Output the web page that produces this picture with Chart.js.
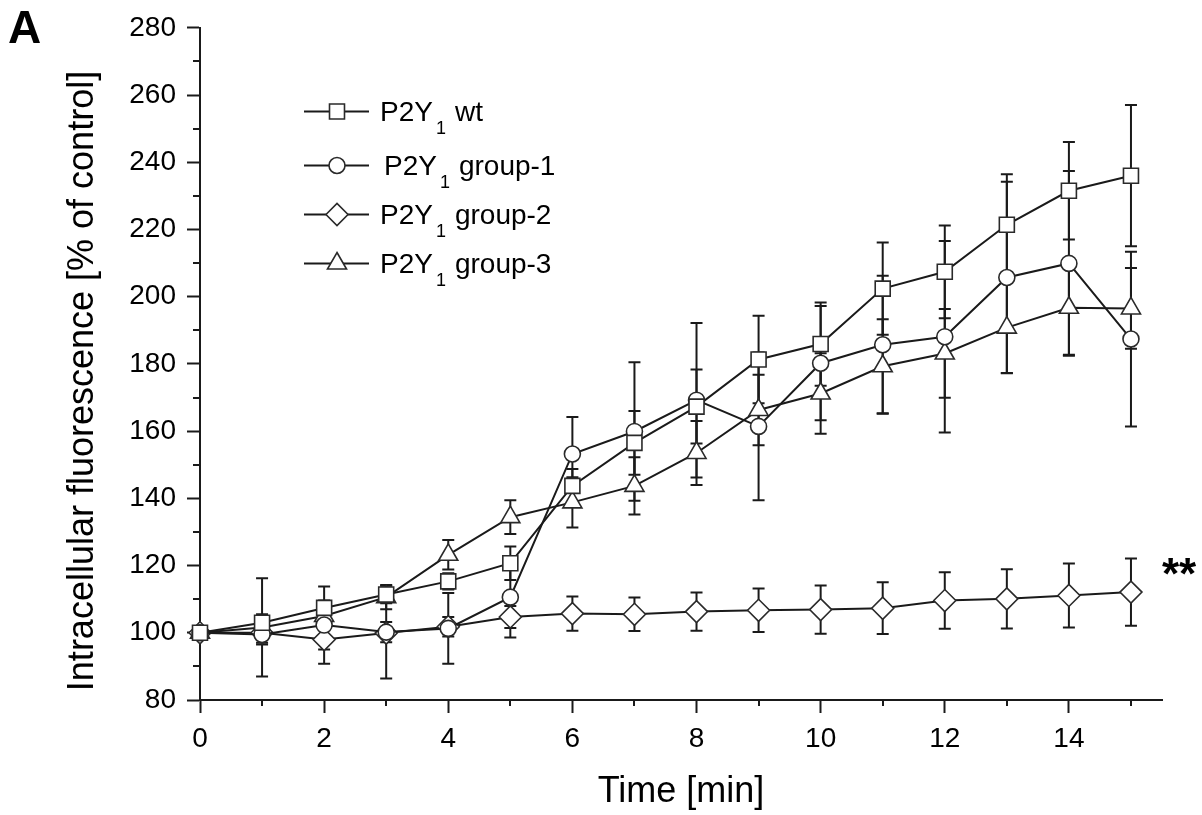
<!DOCTYPE html>
<html>
<head>
<meta charset="utf-8">
<title>Intracellular fluorescence</title>
<script src="https://cdn.jsdelivr.net/npm/chart.js@4.4.1/dist/chart.umd.min.js"></script>
<style>
    html, body { margin: 0; padding: 0; background: #fff; }
    #wrap { width: 1202px; height: 815px; }
</style>
</head>
<body>
<div id="wrap"><canvas id="chart" width="1202" height="815"></canvas></div>
<script>
// Time points (min)
const times = [0, 1, 2, 3, 4, 5, 6, 7, 8, 9, 10, 11, 12, 13, 14, 15];

// Means and error bars (% of control)
const wtMean = [100, 103, 107.4, 111.4, 115.3, 120.7, 143.7, 156.5, 167.3, 181.3, 185.9, 202.4, 207.4, 221.4, 231.5, 236];
const wtErr  = [0, 2.5, 2.2, 2.6, 2.4, 5, 5, 9.5, 11, 13, 12.4, 13.7, 13.8, 15, 14.5, 21];

const g1Mean = [100, 99.5, 102.3, 100.2, 101.3, 110.6, 153.2, 159.9, 169.2, 161.4, 180.2, 185.7, 188.1, 205.7, 209.9, 187.4];
const g1Err  = [0, 3, 11.5, 3, 10.5, 12, 11, 20.6, 23, 22, 17, 20.5, 28.5, 28.5, 27.5, 26];

const g2Mean = [100, 100, 98, 99.9, 101.8, 104.7, 105.7, 105.5, 106.3, 106.7, 106.9, 107.3, 109.6, 110.1, 111.1, 112.1];
const g2Err  = [0, 3, 3, 13.5, 2.9, 3.3, 5.1, 5, 5.7, 6.5, 7.2, 7.7, 8.4, 8.8, 9.5, 10];

const g3Mean = [100, 101.6, 105, 110.6, 123.2, 134.4, 138.8, 143.7, 153.5, 166.3, 171.2, 179.3, 183.1, 190.8, 196.7, 196.5];
const g3Err  = [0, 14.6, 2.5, 3.6, 4.4, 5, 7.5, 8.5, 9.5, 10.5, 12, 14, 13.2, 13.5, 14, 12];

// Legend text: "P2Y" + subscript "1" + suffix
const seriesNames = ['wt', 'group-1', 'group-2', 'group-3'];

// Axis ticks
const xMajorTicks = [0, 2, 4, 6, 8, 10, 12, 14];
const xMinorTicks = [1, 3, 5, 7, 9, 11, 13, 15];
const yMajorTicks = [80, 100, 120, 140, 160, 180, 200, 220, 240, 260, 280];
const yMinorTicks = [90, 110, 130, 150, 170, 190, 210, 230, 250, 270];

const FONT = "'Liberation Sans', Arial, Helvetica, sans-serif";
const INK = '#1a1a1a';

function toPoints(values) {
    return times.map((t, i) => ({ x: t, y: values[i] }));
}

function makeSet(name, means, errs, style, radius) {
    return {
        label: 'P2Y\u2081 ' + name,
        data: toPoints(means),
        errors: errs,
        borderColor: INK,
        borderWidth: 2,
        pointStyle: style,
        pointRadius: radius,
        pointHoverRadius: radius,
        pointBackgroundColor: '#fff',
        pointBorderColor: '#2a2a2a',
        pointBorderWidth: 1.6,
        tension: 0,
        fill: false,
        clip: false
    };
}

const datasets = [
    makeSet(seriesNames[0], wtMean, wtErr, 'rect', 10.6),
    makeSet(seriesNames[1], g1Mean, g1Err, 'circle', 8),
    makeSet(seriesNames[2], g2Mean, g2Err, 'rectRot', 11),
    makeSet(seriesNames[3], g3Mean, g3Err, 'triangle', 11)
];

// Vertical error bars with caps, drawn under the markers
const errorBars = {
    id: 'errorBars',
    beforeDatasetsDraw(chart) {
        const ctx = chart.ctx;
        const yScale = chart.scales.y;
        const cap = 6;
        ctx.save();
        ctx.strokeStyle = INK;
        ctx.lineWidth = 2;
        chart.data.datasets.forEach((ds, di) => {
            const meta = chart.getDatasetMeta(di);
            meta.data.forEach((pt, i) => {
                const e = ds.errors[i];
                if (!e) return;
                const v = ds.data[i].y;
                const x = pt.x;
                const yTop = yScale.getPixelForValue(v + e);
                const yBot = yScale.getPixelForValue(v - e);
                ctx.beginPath();
                ctx.moveTo(x, yTop);
                ctx.lineTo(x, yBot);
                ctx.moveTo(x - cap, yTop);
                ctx.lineTo(x + cap, yTop);
                ctx.moveTo(x - cap, yBot);
                ctx.lineTo(x + cap, yBot);
                ctx.stroke();
            });
        });
        ctx.restore();
    }
};

// Short minor ticks on both axes, plus the y-axis title
const axisExtras = {
    id: 'axisExtras',
    afterDraw(chart) {
        const ctx = chart.ctx;
        const xs = chart.scales.x;
        const ys = chart.scales.y;
        const area = chart.chartArea;
        ctx.save();
        ctx.strokeStyle = INK;
        ctx.lineWidth = 2;
        ctx.beginPath();
        xMinorTicks.forEach(v => {
            const px = Math.round(xs.getPixelForValue(v));
            ctx.moveTo(px, area.bottom);
            ctx.lineTo(px, area.bottom + 6);
        });
        yMinorTicks.forEach(v => {
            const py = Math.round(ys.getPixelForValue(v));
            ctx.moveTo(area.left, py);
            ctx.lineTo(area.left - 7, py);
        });
        ctx.stroke();

        ctx.translate(83, 381);
        ctx.rotate(-Math.PI / 2);
        ctx.fillStyle = '#000';
        ctx.font = '36px ' + FONT;
        ctx.textAlign = 'center';
        ctx.textBaseline = 'middle';
        ctx.fillText('Intracellular fluorescence [% of control]', 0, 0);
        ctx.restore();
    }
};

// Legend with subscript, panel letter and significance stars
const annotations = {
    id: 'annotations',
    afterDraw(chart) {
        const ctx = chart.ctx;
        const rows = [113, 167, 216, 265];
        ctx.save();
        chart.data.datasets.forEach((ds, i) => {
            const y = rows[i];
            const ly = y - 1.5;
            ctx.strokeStyle = INK;
            ctx.lineWidth = 2;
            ctx.beginPath();
            ctx.moveTo(304, ly);
            ctx.lineTo(369, ly);
            ctx.stroke();
            ctx.fillStyle = '#fff';
            ctx.strokeStyle = '#2a2a2a';
            ctx.lineWidth = 1.6;
            Chart.helpers.drawPoint(ctx, {
                pointStyle: ds.pointStyle,
                radius: ds.pointRadius,
                borderWidth: 1.6,
                rotation: 0
            }, 337, ly);

            ctx.fillStyle = '#000';
            ctx.textBaseline = 'middle';
            ctx.textAlign = 'left';
            const startX = i === 1 ? 384 : 380;
            ctx.font = '28px ' + FONT;
            ctx.fillText('P2Y', startX, y);
            const subX = startX + ctx.measureText('P2Y').width + 3;
            ctx.font = '18px ' + FONT;
            ctx.fillText('1', subX, y + 16);
            ctx.font = '28px ' + FONT;
            ctx.fillText(seriesNames[i], subX + 19, y);
        });

        ctx.fillStyle = '#000';
        ctx.textAlign = 'left';
        ctx.textBaseline = 'alphabetic';
        ctx.font = 'bold 46px ' + FONT;
        ctx.fillText('A', 8, 43);
        ctx.font = 'bold 44px ' + FONT;
        ctx.fillText('**', 1162, 589);
        ctx.restore();
    }
};

const ctx = document.getElementById('chart').getContext('2d');
new Chart(ctx, {
    type: 'line',
    data: { datasets: datasets },
    options: {
        responsive: false,
        animation: false,
        devicePixelRatio: 1,
        layout: { padding: { top: 20, right: 40, left: 0, bottom: 0 } },
        plugins: {
            legend: { display: false },
            tooltip: { enabled: false }
        },
        scales: {
            x: {
                type: 'linear',
                min: 0,
                max: 15.5,
                afterBuildTicks: scale => { scale.ticks = xMajorTicks.map(v => ({ value: v })); },
                afterFit: scale => { scale.height = 115; },
                ticks: {
                    color: '#000',
                    font: { family: FONT, size: 28 },
                    padding: 9,
                    maxRotation: 0,
                    autoSkip: false
                },
                grid: {
                    drawOnChartArea: false,
                    drawTicks: true,
                    tickLength: 13,
                    tickWidth: 2,
                    tickColor: INK
                },
                border: { display: true, color: INK, width: 2 },
                title: {
                    display: true,
                    text: 'Time [min]',
                    color: '#000',
                    font: { family: FONT, size: 36 },
                    padding: { top: 0, bottom: 1 }
                }
            },
            y: {
                type: 'linear',
                min: 80,
                max: 280,
                afterBuildTicks: scale => { scale.ticks = yMajorTicks.map(v => ({ value: v })); },
                afterFit: scale => { scale.width = 200; },
                ticks: {
                    color: '#000',
                    font: { family: FONT, size: 28 },
                    padding: 11
                },
                grid: {
                    drawOnChartArea: false,
                    drawTicks: true,
                    tickLength: 13,
                    tickWidth: 2,
                    tickColor: INK
                },
                border: { display: true, color: INK, width: 2 }
            }
        }
    },
    plugins: [errorBars, axisExtras, annotations]
});
</script>
</body>
</html>
